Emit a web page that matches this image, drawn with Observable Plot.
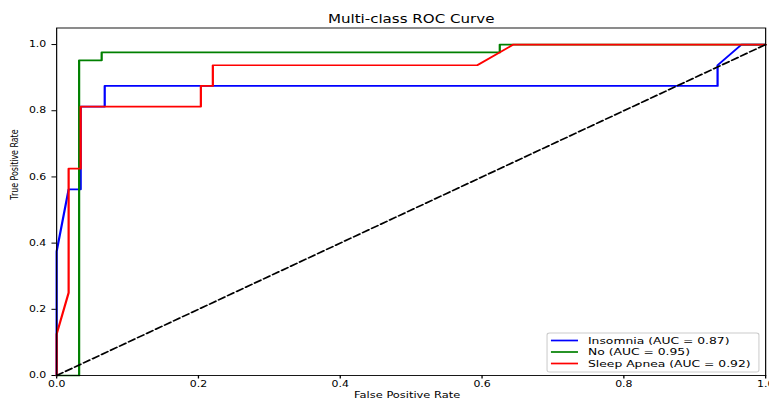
<!DOCTYPE html>
<html><head><meta charset="utf-8">
<script src="https://cdn.jsdelivr.net/npm/d3@7"></script>
<script src="https://cdn.jsdelivr.net/npm/@observablehq/plot@0.6"></script>
<style>body{margin:0;background:#fff;} #chart svg{font-family:"DejaVu Sans";}</style>
</head><body><div id="chart"></div>
<script>
const seriesNames = ["Insomnia", "No", "Sleep Apnea"];
const seriesAuc = [0.87, 0.95, 0.92];
const seriesColors = ["#0000ff", "#008000", "#ff0000"];
const fprInsomnia = [0, 0, 0.0169, 0.0339, 0.0339, 0.0678, 0.0678, 0.9322, 0.9322, 0.9661, 1];
const tprInsomnia = [0, 0.375, 0.5625, 0.5625, 0.8125, 0.8125, 0.875, 0.875, 0.9375, 1, 1];
const fprNo = [0, 0.0317, 0.0317, 0.0635, 0.0635, 0.625, 0.625, 1];
const tprNo = [0, 0, 0.9524, 0.9524, 0.9762, 0.9762, 1, 1];
const fprApnea = [0, 0, 0.0169, 0.0169, 0.0339, 0.0339, 0.2034, 0.2034, 0.2203, 0.2203, 0.5932, 0.6441, 1];
const tprApnea = [0, 0.125, 0.25, 0.625, 0.625, 0.8125, 0.8125, 0.875, 0.875, 0.9375, 0.9375, 1, 1];
const chanceX = [0, 1];
const chanceY = [0, 1];
const xTicks = [0, 0.2, 0.4, 0.6, 0.8, 1.0];
const yTicks = [0, 0.2, 0.4, 0.6, 0.8, 1.0];
const titleText = "Multi-class ROC Curve";
const xLabel = "False Positive Rate";
const yLabel = "True Positive Rate";

const toRows = (xs, ys) => xs.map((x, i) => ({x, y: ys[i]}));
const curves = [toRows(fprInsomnia, tprInsomnia), toRows(fprNo, tprNo), toRows(fprApnea, tprApnea)];

const S = 1.3, W = 769 / S, H = 398;
const fmt = d3.format(".1f");

const svg = Plot.plot({
  width: W, height: H,
  marginLeft: 56 / S, marginRight: 4 / S, marginTop: 27.5, marginBottom: 23,
  x: {domain: [0, 1]},
  y: {domain: [0, 1.05]},
  style: {fontFamily: "DejaVu Sans", fontSize: "8.2px", color: "#000", background: "#fff", overflow: "visible"},
  marks: [
    Plot.axisX({ticks: xTicks, tickFormat: fmt, tickSize: 3.5, tickPadding: 2.5, label: null, fontSize: 8.4}),
    Plot.axisY({ticks: yTicks, tickFormat: fmt, tickSize: 3.5, tickPadding: 4.5, label: null, fontSize: 8.4}),
    ...curves.map((c, i) => Plot.line(c, {x: "x", y: "y", stroke: seriesColors[i], strokeWidth: 1.7, curve: "linear"})),
    Plot.line(toRows(chanceX, chanceY), {x: "x", y: "y", stroke: "#000", strokeWidth: 1.6, strokeDasharray: "5.5,2.6"}),
    Plot.frame({stroke: "#000", strokeWidth: 0.9}),
    Plot.text([titleText], {frameAnchor: "top", dy: -8.3, lineAnchor: "middle", fontSize: 11.6}),
    Plot.text([xLabel], {frameAnchor: "bottom", dx: -4 / S, dy: 16.2, lineAnchor: "top", fontSize: 8.8}),
    Plot.text([yLabel], {frameAnchor: "left", dx: -(56 - 14) / S, dy: -2, rotate: -90, lineAnchor: "middle", fontSize: 7.9})
  ]
});

// legend
const lg = d3.select(svg).append("g").attr("font-family", "DejaVu Sans").attr("font-size", 9.5).attr("text-anchor", "start");
lg.append("rect").attr("x", 420.8).attr("y", 333).attr("width", 163).attr("height", 39)
  .attr("rx", 2).attr("fill", "#fff").attr("fill-opacity", 0.8).attr("stroke", "#cccccc").attr("stroke-width", 0.8);
const rowY = [340.5, 352, 363.5];
seriesNames.forEach((name, i) => {
  lg.append("line").attr("x1", 423.8).attr("x2", 444.6).attr("y1", rowY[i]).attr("y2", rowY[i])
    .attr("stroke", seriesColors[i]).attr("stroke-width", 1.7);
  lg.append("text").attr("x", 452.3).attr("y", rowY[i]).attr("dy", "0.35em").attr("fill", "#000")
    .attr("text-anchor", "start")
    .text(`${name} (AUC = ${seriesAuc[i].toFixed(2)})`);
});

svg.setAttribute("width", 769);
svg.setAttribute("height", 398);
svg.setAttribute("viewBox", `0 0 ${W} ${H}`);
svg.setAttribute("preserveAspectRatio", "none");
svg.style.width = "769px";
svg.style.height = "398px";
svg.style.maxWidth = "none";
document.getElementById("chart").appendChild(svg);
</script>
</body></html>
